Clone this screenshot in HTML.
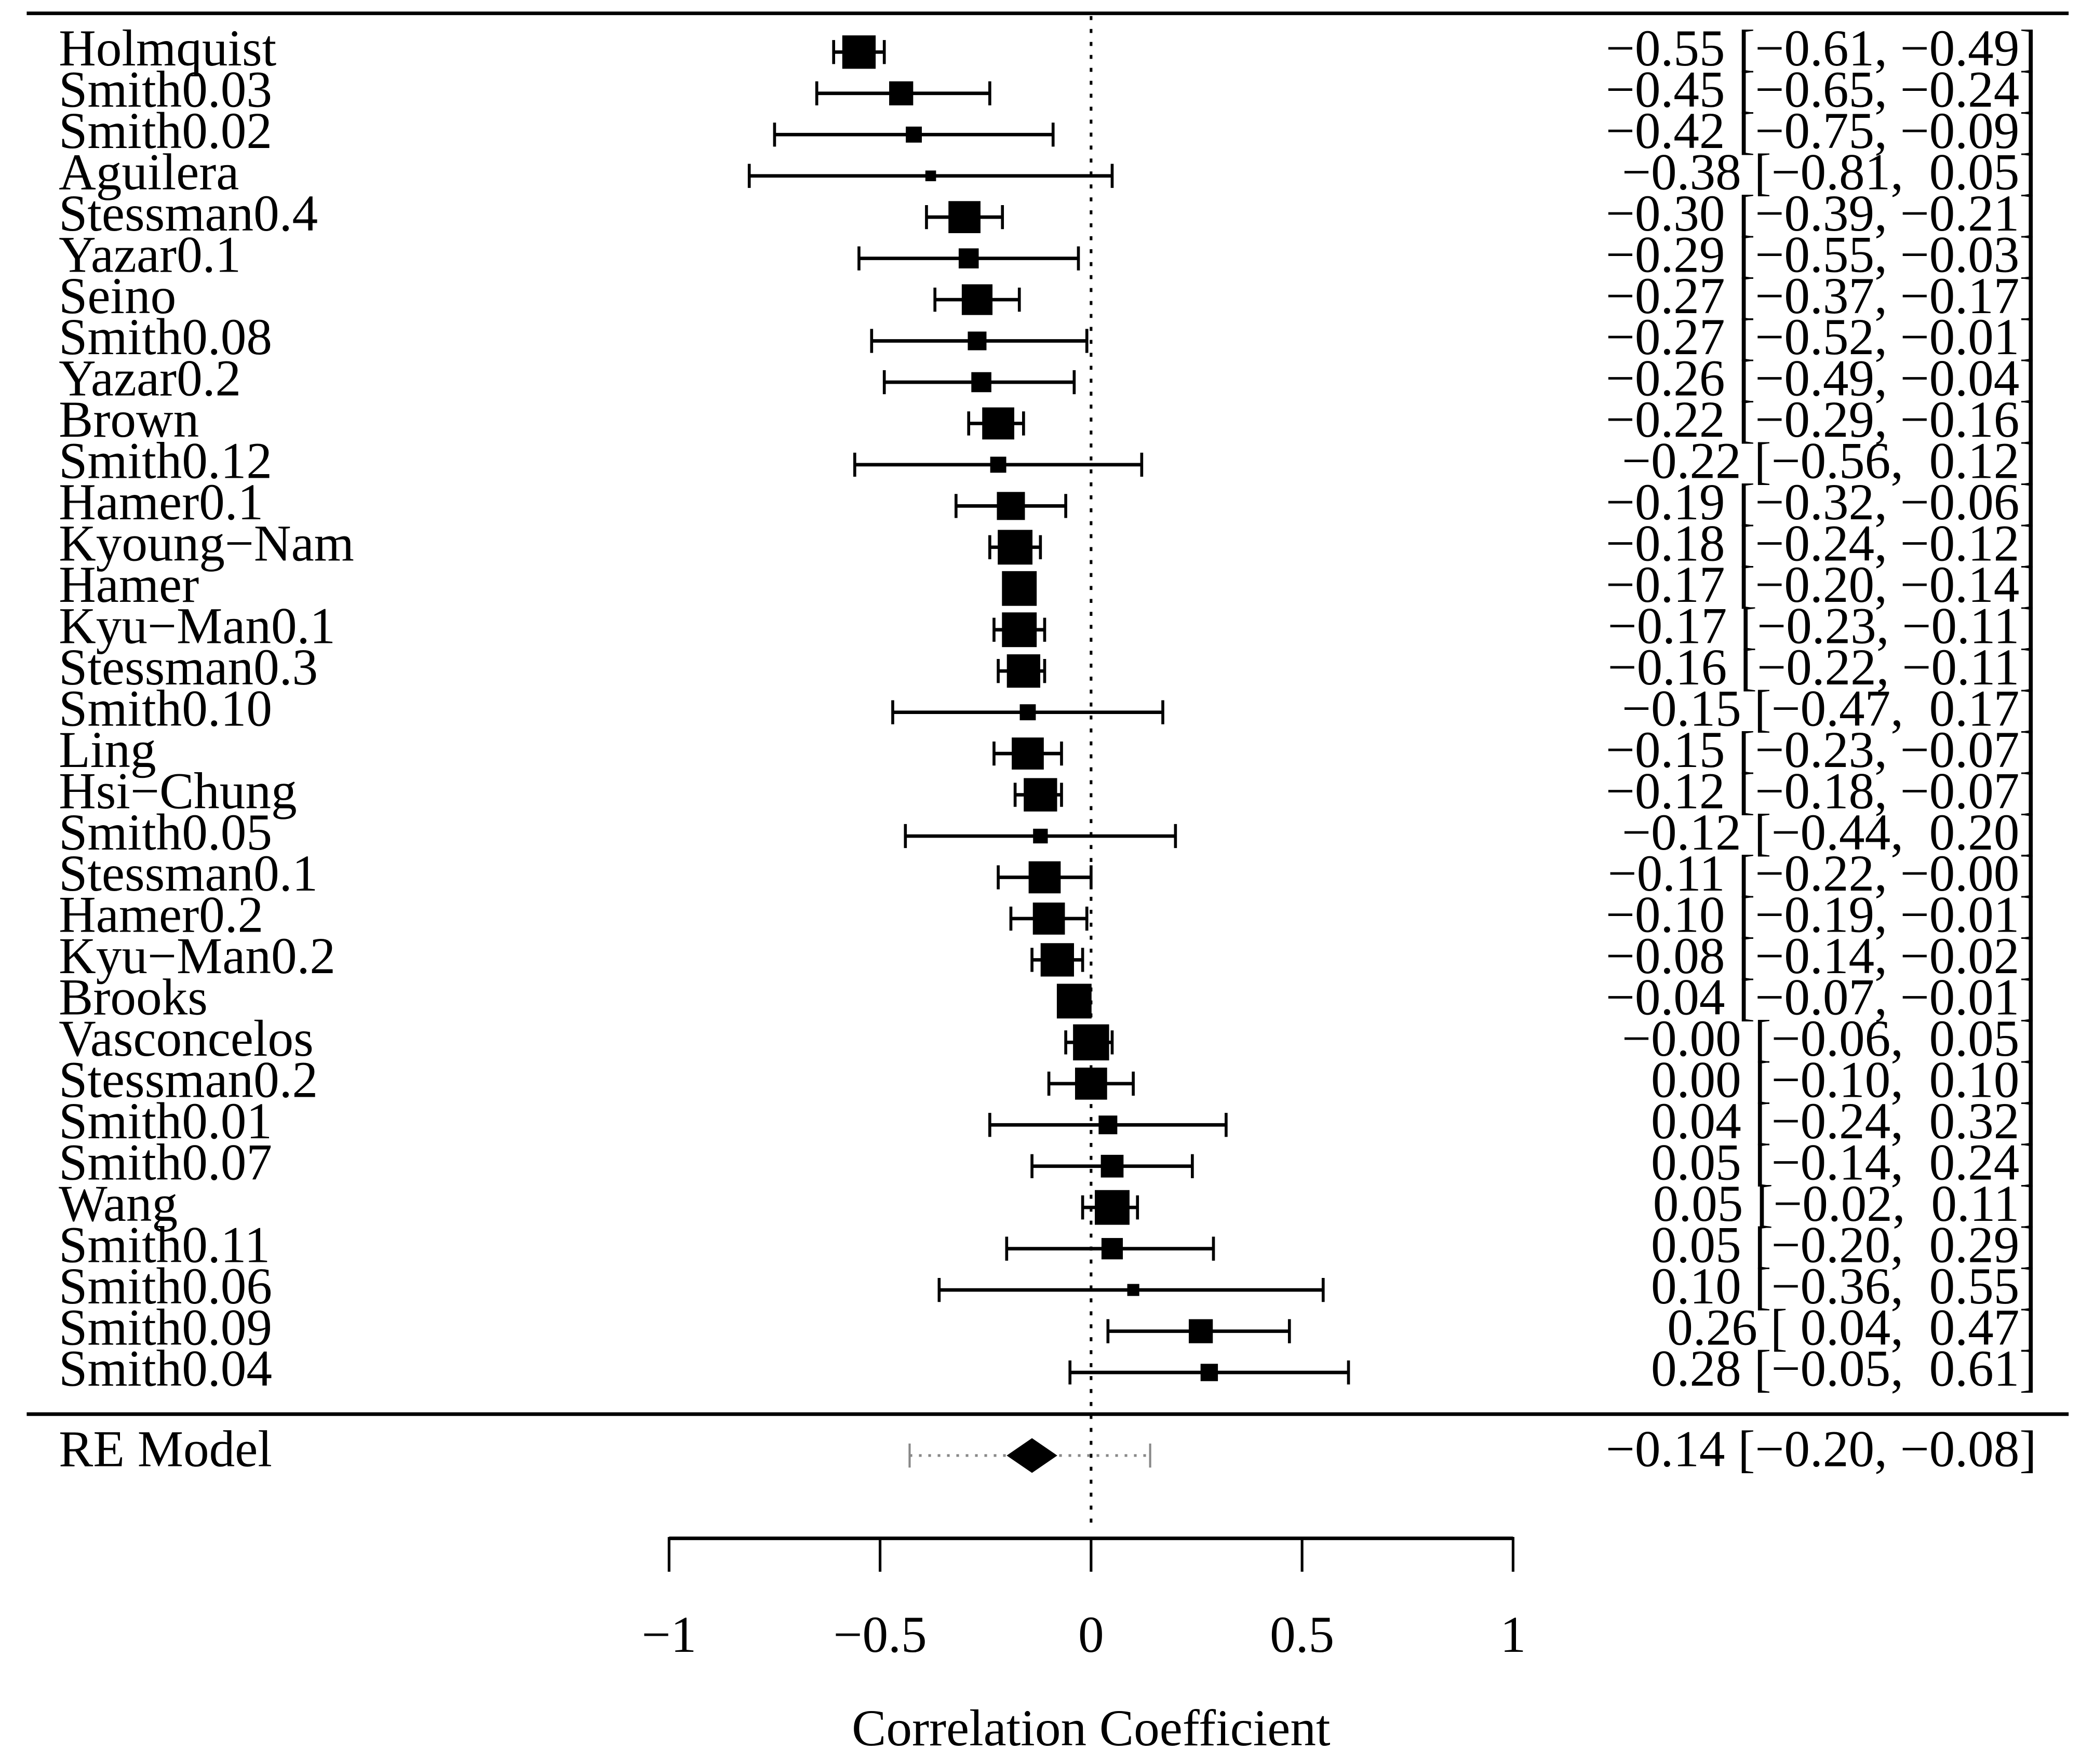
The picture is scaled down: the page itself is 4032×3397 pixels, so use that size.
<!DOCTYPE html>
<html><head><meta charset="utf-8"><title>Forest plot</title>
<style>html,body{margin:0;padding:0;background:#fff}svg{display:block}text{font-family:"Liberation Serif",serif;fill:#000}</style>
</head><body>
<svg id="chart" width="4032" height="3397" viewBox="0 0 1568 1321" preserveAspectRatio="none" xmlns="http://www.w3.org/2000/svg"></svg>
<script>
const studies = ["Holmquist","Smith0.03","Smith0.02","Aguilera","Stessman0.4","Yazar0.1","Seino","Smith0.08","Yazar0.2","Brown","Smith0.12","Hamer0.1","Kyoung\u2212Nam","Hamer","Kyu\u2212Man0.1","Stessman0.3","Smith0.10","Ling","Hsi\u2212Chung","Smith0.05","Stessman0.1","Hamer0.2","Kyu\u2212Man0.2","Brooks","Vasconcelos","Stessman0.2","Smith0.01","Smith0.07","Wang","Smith0.11","Smith0.06","Smith0.09","Smith0.04"];
const estimates = [-0.55,-0.45,-0.42,-0.38,-0.30,-0.29,-0.27,-0.27,-0.26,-0.22,-0.22,-0.19,-0.18,-0.17,-0.17,-0.16,-0.15,-0.15,-0.12,-0.12,-0.11,-0.10,-0.08,-0.04,-0.00,0.00,0.04,0.05,0.05,0.05,0.10,0.26,0.28];
const lowers = [-0.61,-0.65,-0.75,-0.81,-0.39,-0.55,-0.37,-0.52,-0.49,-0.29,-0.56,-0.32,-0.24,-0.20,-0.23,-0.22,-0.47,-0.23,-0.18,-0.44,-0.22,-0.19,-0.14,-0.07,-0.06,-0.10,-0.24,-0.14,-0.02,-0.20,-0.36,0.04,-0.05];
const uppers = [-0.49,-0.24,-0.09,0.05,-0.21,-0.03,-0.17,-0.01,-0.04,-0.16,0.12,-0.06,-0.12,-0.14,-0.11,-0.11,0.17,-0.07,-0.07,0.20,-0.00,-0.01,-0.02,-0.01,0.05,0.10,0.32,0.24,0.11,0.29,0.55,0.47,0.61];
const weights = [25,18,12,8,24,15,23,14,15,24,12,21,26,26,26,25,12,24,25,11,24,24,25,26,27,24,14,17,26,16,9,18,13];
const summary = {est:-0.14, lo:-0.20, hi:-0.08, piLo:-0.43, piHi:0.14};
const ticks = [-1,-0.5,0,0.5,1];
const tickLabels = ["\u22121","\u22120.5","0","0.5","1"];

const NS="http://www.w3.org/2000/svg";
const svg=document.getElementById('chart');
const xs=v=>817+v*316;
const ys=i=>39+i*30.9;
function el(tag,attrs,parent){const e=document.createElementNS(NS,tag);for(const k in attrs)e.setAttribute(k,attrs[k]);(parent||svg).appendChild(e);return e;}
function fmt(v,pad){let s=Math.abs(v).toFixed(2);const neg=v<0||Object.is(v,-0);if(neg)s="\u2212"+s;else if(pad)s=" "+s;return s;}
const FS=38.6;

let e;
e=el('line',{x1:20,x2:1549,y1:10,y2:10,stroke:'#000','stroke-width':2.7});


e=el('line',{x1:20,x2:1549,y1:1059,y2:1059,stroke:'#000','stroke-width':2.7});


e=el('line',{x1:xs(0),x2:xs(0),y1:12,y2:1146,stroke:'#000','stroke-width':2,'stroke-dasharray':'3 6.7'});



for(let i=0;i<studies.length;i++){
  const y=ys(i);
  const g=el('g',{});
  
  
  const t=el('text',{x:44,y:y+10,'font-size':FS},g);t.textContent=studies[i];
  
  
  const ci=el('line',{x1:xs(lowers[i]),x2:xs(uppers[i]),y1:y,y2:y,stroke:'#000','stroke-width':2.6},g);
  
  
  for(const v of [lowers[i],uppers[i]]){
    const w=el('line',{x1:xs(v),x2:xs(v),y1:y-9,y2:y+9,stroke:'#000','stroke-width':2.2},g);
    
    
  }
  const s=weights[i];
  const r=el('rect',{x:xs(estimates[i])-s/2,y:y-s/2,width:s,height:s,fill:'#000'},g);
  
  
  const v=el('text',{x:1525,y:y+10,'font-size':FS,'text-anchor':'end'},g);
  v.setAttribute('xml:space','preserve');v.style.whiteSpace='pre';
  v.textContent=fmt(estimates[i],false)+" ["+fmt(lowers[i],true)+", "+fmt(uppers[i],true)+"]";
  
  
}

// summary
const yS=1090;
const sg=el('g',{});


e=el('text',{x:44,y:yS+8,'font-size':FS},sg);e.textContent="RE Model";


e=el('line',{x1:xs(summary.piLo),x2:xs(summary.piHi),y1:yS,y2:yS,stroke:'#888','stroke-width':2,'stroke-dasharray':'2 5'},sg);


for(const v of [summary.piLo,summary.piHi]){
  e=el('line',{x1:xs(v),x2:xs(v),y1:yS-9,y2:yS+9,stroke:'#888','stroke-width':1.6},sg);
  
  
}
e=el('polygon',{points:`${xs(summary.lo)},${yS} ${xs(summary.est)},${yS-13} ${xs(summary.hi)},${yS} ${xs(summary.est)},${yS+13}`,fill:'#000'},sg);


e=el('text',{x:1525,y:yS+8,'font-size':FS,'text-anchor':'end'},sg);
e.textContent=fmt(summary.est,false)+" ["+fmt(summary.lo,true)+", "+fmt(summary.hi,true)+"]";



// axis
const ag=el('g',{});


e=el('line',{x1:xs(-1),x2:xs(1),y1:1152,y2:1152,stroke:'#000','stroke-width':2.7},ag);


ticks.forEach((t,k)=>{
  const tl=el('line',{x1:xs(t),x2:xs(t),y1:1151,y2:1177,stroke:'#000','stroke-width':2},ag);
  
  
  const tx=el('text',{x:xs(t),y:1237,'font-size':FS,'text-anchor':'middle'},ag);
  tx.textContent=tickLabels[k];
  
  
});
e=el('text',{x:xs(0),y:1307,'font-size':FS,'text-anchor':'middle'},ag);
e.textContent="Correlation Coefficient";


</script>
</body></html>
